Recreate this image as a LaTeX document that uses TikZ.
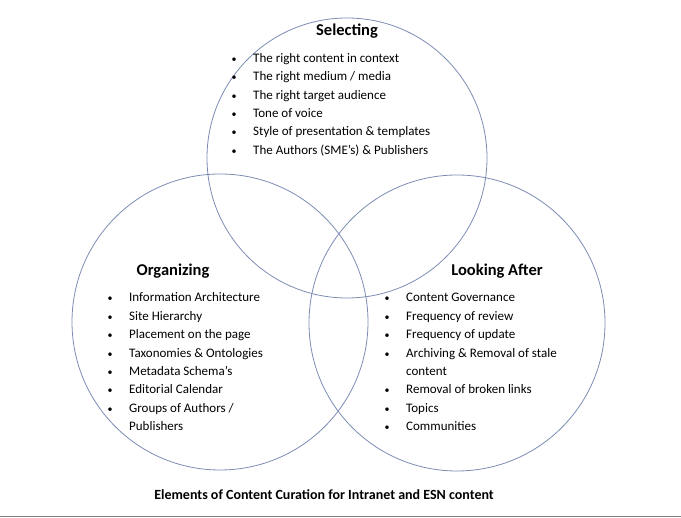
\documentclass[tikz,border=0pt]{standalone}
\usepackage{fontspec}
\setmainfont{Carlito}
\usetikzlibrary{positioning}
\definecolor{ringcol}{RGB}{125,140,180}
\tikzset{
  ring/.style={draw=ringcol, line width=0.8pt},
  head/.style={anchor=base, font=\fontsize{16.5}{18}\selectfont\bfseries},
  item/.style={anchor=base west, inner sep=0, font=\fontsize{13}{15}\selectfont},
  dot/.style={anchor=base, inner sep=0, font=\fontsize{10}{12}\selectfont}
}
\begin{document}
\begin{tikzpicture}[x=1pt,y=1pt]
  \useasboundingbox (0,0) rectangle (681,518);
  % three rings
  \draw[ring] (347,360) circle (140) coordinate (sel);
  \draw[ring] (220,196) circle (148) coordinate (org);
  \draw[ring] (457,195) circle (148) coordinate (look);

  % headings
  \node[head] (selhead) at (347,482) {Selecting};
  \node[head] (orghead) at (173,242) {Organizing};
  \node[head] (lookhead) at (497,242) {Looking After};

  % Selecting list
  \foreach \t [count=\i] in {The right content in context, The right medium / media,
      The right target audience, Tone of voice, Style of presentation \& templates,
      The Authors (SME’s) \& Publishers}{
    \node[dot] at (234,474-\i*18.4) {\textbullet};
    \node[item] (sel\i) at (253,474-\i*18.4) {\t};
  }

  % Organizing list (b=0: wrapped line)
  \foreach \t/\b [count=\i] in {Information Architecture/1, Site Hierarchy/1,
      Placement on the page/1, Taxonomies \& Ontologies/1, Metadata Schema’s/1,
      Editorial Calendar/1, {Groups of Authors /}/1, Publishers/0}{
    \ifnum\b=1 \node[dot] at (110,234.4-\i*18.4) {\textbullet}; \fi
    \node[item] (org\i) at (129,234.4-\i*18.4) {\t};
  }

  % Looking After list
  \foreach \t/\b [count=\i] in {Content Governance/1, Frequency of review/1,
      Frequency of update/1, Archiving \& Removal of stale/1, content/0,
      Removal of broken links/1, Topics/1, Communities/1}{
    \ifnum\b=1 \node[dot] at (387,234.4-\i*18.4) {\textbullet}; \fi
    \node[item] (look\i) at (406,234.4-\i*18.4) {\t};
  }

  % caption
  \node[anchor=base, font=\fontsize{14}{16}\selectfont\bfseries] (caption) at (324,18)
    {Elements of Content Curation for Intranet and ESN content};
  \draw[gray, line width=1pt] (0,1) -- (681,1);
\end{tikzpicture}
\end{document}
